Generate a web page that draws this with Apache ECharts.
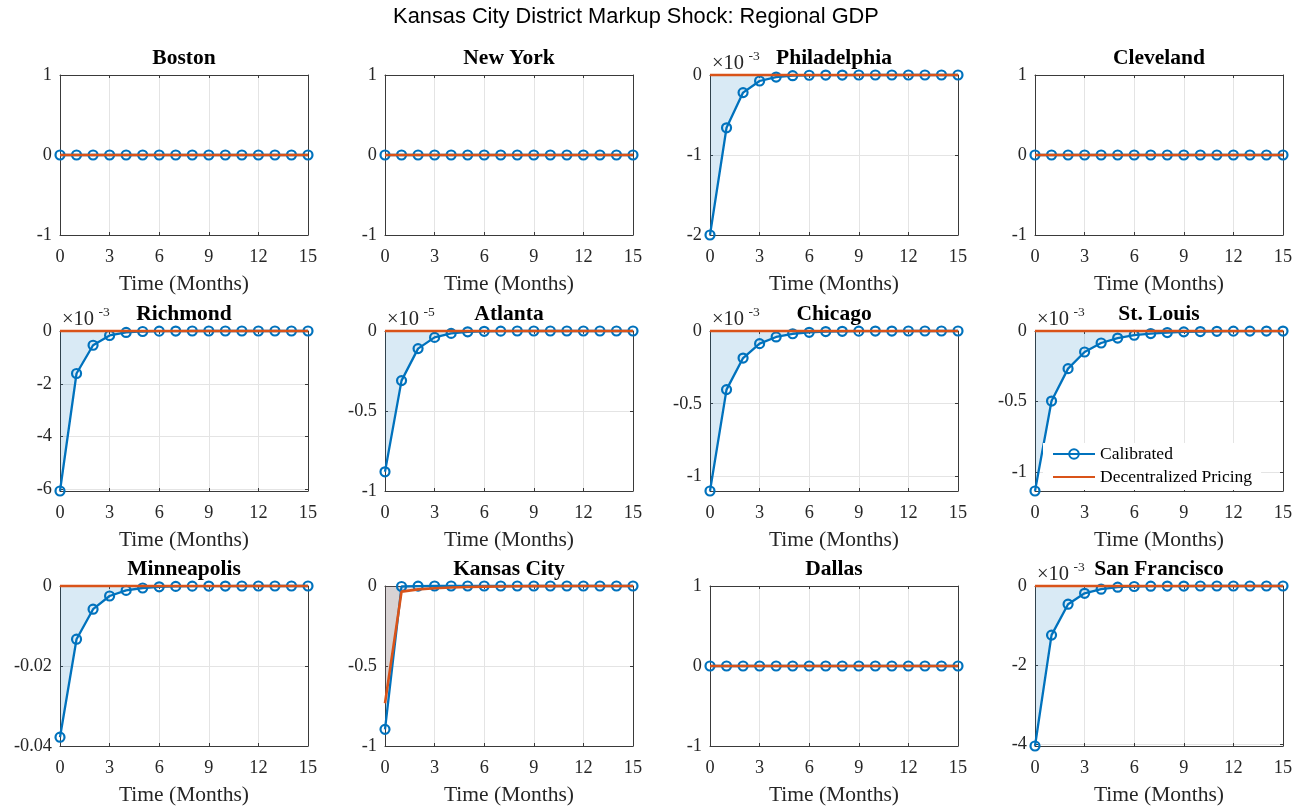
<!DOCTYPE html>
<html>
<head>
<meta charset="utf-8">
<title>Kansas City District Markup Shock: Regional GDP</title>
<script src="https://cdn.jsdelivr.net/npm/echarts@6/dist/echarts.min.js"></script>
<style>
  html, body { margin: 0; padding: 0; background: #ffffff; }
  #chart { width: 1303px; height: 812px; }
</style>
</head>
<body>
<div id="chart"></div>
<script>
// ---- data -------------------------------------------------------------
const months = [0, 1, 2, 3, 4, 5, 6, 7, 8, 9, 10, 11, 12, 13, 14, 15];

const regions = ['Boston', 'New York', 'Philadelphia', 'Cleveland',
                 'Richmond', 'Atlanta', 'Chicago', 'St. Louis',
                 'Minneapolis', 'Kansas City', 'Dallas', 'San Francisco'];

// Impulse responses of regional GDP (Calibrated vs. Decentralized Pricing)
const calBoston        = [0, 0, 0, 0, 0, 0, 0, 0, 0, 0, 0, 0, 0, 0, 0, 0];
const decBoston        = [0, 0, 0, 0, 0, 0, 0, 0, 0, 0, 0, 0, 0, 0, 0, 0];
const calNewYork       = [0, 0, 0, 0, 0, 0, 0, 0, 0, 0, 0, 0, 0, 0, 0, 0];
const decNewYork       = [0, 0, 0, 0, 0, 0, 0, 0, 0, 0, 0, 0, 0, 0, 0, 0];
const calPhiladelphia  = [-0.0020, -0.00066, -0.00022, -0.000075, -0.000026, -0.000009, -0.000003, -0.000001,
                          -0.0000004, -0.0000001, 0, 0, 0, 0, 0, 0];
const decPhiladelphia  = [0, 0, 0, 0, 0, 0, 0, 0, 0, 0, 0, 0, 0, 0, 0, 0];
const calCleveland     = [0, 0, 0, 0, 0, 0, 0, 0, 0, 0, 0, 0, 0, 0, 0, 0];
const decCleveland     = [0, 0, 0, 0, 0, 0, 0, 0, 0, 0, 0, 0, 0, 0, 0, 0];
const calRichmond      = [-0.00606, -0.00161, -0.00054, -0.00017, -0.000055, -0.000018, -0.000006, -0.000002,
                          -0.0000007, -0.0000002, -0.0000001, 0, 0, 0, 0, 0];
const decRichmond      = [0, 0, 0, 0, 0, 0, 0, 0, 0, 0, 0, 0, 0, 0, 0, 0];
const calAtlanta       = [-0.0000088, -0.0000031, -0.0000011, -0.0000004, -0.00000015, -0.00000005, -0.00000002,
                          -0.00000001, 0, 0, 0, 0, 0, 0, 0, 0];
const decAtlanta       = [0, 0, 0, 0, 0, 0, 0, 0, 0, 0, 0, 0, 0, 0, 0, 0];
const calChicago       = [-0.00110, -0.000403, -0.000186, -0.000087, -0.000041, -0.000019, -0.000009, -0.000004,
                          -0.000002, -0.000001, -0.0000005, -0.0000002, -0.0000001, 0, 0, 0];
const decChicago       = [0, 0, 0, 0, 0, 0, 0, 0, 0, 0, 0, 0, 0, 0, 0, 0];
const calStLouis       = [-0.001135, -0.000497, -0.000267, -0.000149, -0.000085, -0.000050, -0.000030, -0.000018,
                          -0.000011, -0.000006, -0.000004, -0.000002, -0.000001, -0.0000007, -0.0000004, -0.0000002];
const decStLouis       = [0, 0, 0, 0, 0, 0, 0, 0, 0, 0, 0, 0, 0, 0, 0, 0];
const calMinneapolis   = [-0.0378, -0.0133, -0.0058, -0.0025, -0.0011, -0.0005, -0.0002, -0.0001,
                          -0.00004, -0.00002, -0.00001, 0, 0, 0, 0, 0];
const decMinneapolis   = [0, 0, 0, 0, 0, 0, 0, 0, 0, 0, 0, 0, 0, 0, 0, 0];
const calKansasCity    = [-0.896, -0.003, -0.001, 0, 0, 0, 0, 0, 0, 0, 0, 0, 0, 0, 0, 0];
const decKansasCity    = [-0.733, -0.035, -0.021, -0.014, -0.009, -0.006, -0.004, -0.003,
                          -0.002, -0.001, -0.001, 0, 0, 0, 0, 0];
const calDallas        = [0, 0, 0, 0, 0, 0, 0, 0, 0, 0, 0, 0, 0, 0, 0, 0];
const decDallas        = [0, 0, 0, 0, 0, 0, 0, 0, 0, 0, 0, 0, 0, 0, 0, 0];
const calSanFrancisco  = [-0.00404, -0.00124, -0.00046, -0.000185, -0.00008, -0.00003, -0.000012, -0.000005,
                          -0.000002, -0.000001, 0, 0, 0, 0, 0, 0];
const decSanFrancisco  = [0, 0, 0, 0, 0, 0, 0, 0, 0, 0, 0, 0, 0, 0, 0, 0];

const calibratedSets = [calBoston, calNewYork, calPhiladelphia, calCleveland,
                        calRichmond, calAtlanta, calChicago, calStLouis,
                        calMinneapolis, calKansasCity, calDallas, calSanFrancisco];
const decentralSets  = [decBoston, decNewYork, decPhiladelphia, decCleveland,
                        decRichmond, decAtlanta, decChicago, decStLouis,
                        decMinneapolis, decKansasCity, decDallas, decSanFrancisco];

// y-axis limits, tick step (in displayed units) and power-of-ten multiplier
const yMin      = [-1, -1, -2, -1, -6.06, -1, -1.10, -1.135, -0.04, -1, -1, -4.04];
const yMax      = [1, 1, 0, 1, 0, 0, 0, 0, 0, 0, 1, 0];
const yStep     = [1, 1, 1, 1, 2, 0.5, 0.5, 0.5, 0.02, 0.5, 1, 2];
const yExponent = [0, 0, -3, 0, -3, -5, -3, -3, 0, 0, 0, -3];

const xTicks = [0, 3, 6, 9, 12, 15];

// ---- layout & style ---------------------------------------------------
const PANEL_W = 248, PANEL_H = 160;
const colLeft = [60, 385, 710, 1035];
const rowTop  = [75, 331, 586];
const BLUE = '#0072BD', ORANGE = '#D95319';
const INK = '#262626', FRAME = '#3a3a3a', GRIDLINE = '#e4e4e4';
const SERIF = '"Liberation Serif", "Times New Roman", serif';
const SANS = '"Liberation Sans", Arial, Helvetica, sans-serif';

const grids = [], xAxes = [], yAxes = [], series = [], graphics = [];

regions.forEach((region, i) => {
  const left = colLeft[i % 4];
  const top = rowTop[Math.floor(i / 4)];
  const scale = Math.pow(10, yExponent[i]);
  const step = yStep[i];

  grids.push({ left: left, top: top, width: PANEL_W, height: PANEL_H,
               show: false, containLabel: false, outerBoundsMode: 'none' });

  const tickLabel = (v) => {
    const k = Math.round(v / step);
    if (Math.abs(v - k * step) > step * 1e-6) return '';
    return String(parseFloat((k * step).toFixed(6)));
  };

  // bottom x axis (labels, grid) + mirrored top edge
  xAxes.push({
    gridIndex: i, type: 'value', position: 'bottom',
    min: xTicks[0], max: xTicks[xTicks.length - 1], interval: xTicks[1] - xTicks[0],
    axisLine: { show: true, onZero: false, lineStyle: { color: FRAME, width: 1 } },
    axisTick: { show: true, inside: true, length: 3, lineStyle: { color: FRAME, width: 1 } },
    axisLabel: { show: true, margin: 13, color: INK, fontFamily: SERIF, fontSize: 18.3,
                 showMinLabel: true, showMaxLabel: true },
    splitLine: { show: true, lineStyle: { color: GRIDLINE, width: 1 } },
    name: 'Time (Months)', nameLocation: 'middle', nameGap: 38,
    nameTextStyle: { color: INK, fontFamily: SERIF, fontSize: 21.5 }
  });
  xAxes.push({
    gridIndex: i, type: 'value', position: 'top',
    min: xTicks[0], max: xTicks[xTicks.length - 1], interval: xTicks[1] - xTicks[0],
    axisLine: { show: true, onZero: false, lineStyle: { color: FRAME, width: 1 } },
    axisTick: { show: true, inside: true, length: 3, lineStyle: { color: FRAME, width: 1 } },
    axisLabel: { show: false }, splitLine: { show: false }
  });

  // left y axis (labels, grid) + mirrored right edge
  const yCommon = {
    gridIndex: i, type: 'value', min: yMin[i], max: yMax[i],
    minInterval: step, maxInterval: step, splitNumber: 5
  };
  yAxes.push(Object.assign({}, yCommon, {
    position: 'left',
    axisLine: { show: true, onZero: false, lineStyle: { color: FRAME, width: 1 } },
    axisTick: { show: true, inside: true, length: 3, lineStyle: { color: FRAME, width: 1 } },
    axisLabel: { show: true, margin: 8, color: INK, fontFamily: SERIF, fontSize: 18.3,
                 showMinLabel: true, showMaxLabel: true, formatter: tickLabel },
    splitLine: { show: true, lineStyle: { color: GRIDLINE, width: 1 } }
  }));
  yAxes.push(Object.assign({}, yCommon, {
    position: 'right',
    axisLine: { show: true, onZero: false, lineStyle: { color: FRAME, width: 1 } },
    axisTick: { show: true, inside: true, length: 3, lineStyle: { color: FRAME, width: 1 } },
    axisLabel: { show: false }, splitLine: { show: false }
  }));

  const toPoints = (arr) => months.map((m, j) => [m, Math.round(arr[j] / scale * 1e9) / 1e9]);
  const cal = toPoints(calibratedSets[i]);
  const dec = toPoints(decentralSets[i]);
  const axisRef = { xAxisIndex: 2 * i, yAxisIndex: 2 * i };

  // translucent fills from each response to zero
  series.push(Object.assign({
    type: 'line', name: 'Calibrated fill', data: cal, symbol: 'none',
    lineStyle: { opacity: 0 }, areaStyle: { color: BLUE, opacity: 0.15 },
    silent: true, clip: false, z: 1, animation: false
  }, axisRef));
  series.push(Object.assign({
    type: 'line', name: 'Decentralized fill', data: dec, symbol: 'none',
    lineStyle: { opacity: 0 }, areaStyle: { color: ORANGE, opacity: 0.15 },
    silent: true, clip: false, z: 1, animation: false
  }, axisRef));
  // response lines
  series.push(Object.assign({
    type: 'line', name: 'Calibrated', data: cal,
    symbol: 'circle', symbolSize: 9, showSymbol: true, showAllSymbol: true,
    itemStyle: { color: 'rgba(255,255,255,0)', borderColor: BLUE, borderWidth: 2.2 },
    lineStyle: { color: BLUE, width: 2.3 },
    emphasis: { disabled: true }, clip: false, z: 3, animation: false
  }, axisRef));
  series.push(Object.assign({
    type: 'line', name: 'Decentralized Pricing', data: dec, symbol: 'none',
    itemStyle: { color: ORANGE },
    lineStyle: { color: ORANGE, width: 2.6 },
    emphasis: { disabled: true }, clip: false, z: 4, animation: false
  }, axisRef));

  // panel title
  graphics.push({
    type: 'text', x: left + PANEL_W / 2, y: top - 16.5, silent: true,
    style: { text: region, fill: '#000', font: 'bold 21.5px ' + SERIF,
             textAlign: 'center', textVerticalAlign: 'middle' }
  });
  // power-of-ten multiplier above the y axis
  if (yExponent[i] !== 0) {
    graphics.push({
      type: 'text', x: left + 2, y: top - 11.5, silent: true,
      style: { text: '\u00d710', fill: INK, font: '20.5px ' + SERIF,
               textAlign: 'left', textVerticalAlign: 'middle' }
    });
    graphics.push({
      type: 'text', x: left + 38.5, y: top - 19, silent: true,
      style: { text: String(yExponent[i]), fill: INK, font: '13.5px ' + SERIF,
               textAlign: 'left', textVerticalAlign: 'middle' }
    });
  }
});

const chart = echarts.init(document.getElementById('chart'), null, { renderer: 'canvas' });
chart.setOption({
  animation: false,
  backgroundColor: '#ffffff',
  title: {
    text: 'Kansas City District Markup Shock: Regional GDP',
    left: 636, top: 6, textAlign: 'center', padding: 0,
    textStyle: { fontFamily: SANS, fontSize: 21.8, fontWeight: 'normal', color: '#000', lineHeight: 22 }
  },
  legend: {
    data: [
      { name: 'Calibrated' },
      { name: 'Decentralized Pricing', itemStyle: { opacity: 0 } }
    ],
    orient: 'vertical', left: 1043, top: 443,
    backgroundColor: '#ffffff', padding: [0, 9, 2, 9],
    itemGap: 1, itemWidth: 42, itemHeight: 12,
    selectedMode: false, z: 10,
    textStyle: { fontFamily: SERIF, fontSize: 17.5, color: '#000', lineHeight: 22 }
  },
  grid: grids,
  xAxis: xAxes,
  yAxis: yAxes,
  series: series,
  graphic: { elements: graphics }
});
</script>
</body>
</html>
